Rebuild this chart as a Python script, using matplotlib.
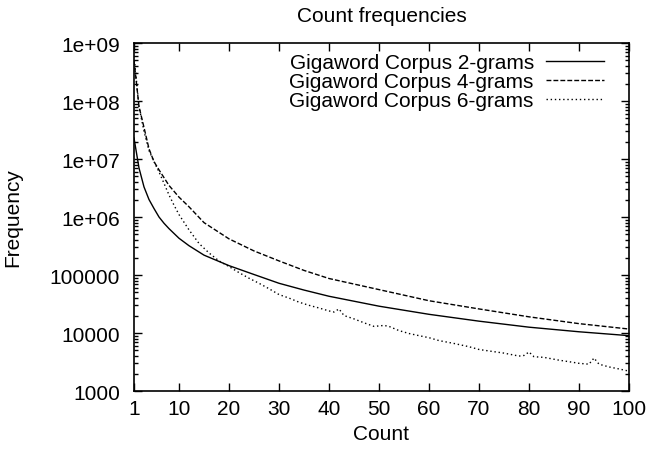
import matplotlib
matplotlib.use('Agg')
import matplotlib.pyplot as plt
import numpy as np
from matplotlib.ticker import FixedLocator, NullFormatter

plt.rcParams['font.family'] = ['Liberation Sans', 'DejaVu Sans']

# values (count -> frequency)
counts_2 = [1, 2, 3, 4, 5, 6, 7, 8, 10, 12, 15, 20, 25, 30, 35, 40, 50, 60, 70, 80, 90, 100]
freq_2 = [2.3e7, 7e6, 3.3e6, 2.0e6, 1.4e6, 1.0e6, 7.8e5, 6.3e5, 4.3e5, 3.2e5, 2.2e5,
          1.45e5, 1.02e5, 7.2e4, 5.5e4, 4.3e4, 2.9e4, 2.1e4, 1.6e4, 1.26e4, 1.05e4, 9e3]

counts_4 = [1, 2, 3, 4, 5, 6, 8, 10, 12, 15, 20, 25, 30, 35, 40, 50, 60, 70, 80, 90, 100]
freq_4 = [5e8, 8e7, 3.5e7, 1.5e7, 9e6, 6.5e6, 3.5e6, 2.2e6, 1.5e6, 8e5, 4.2e5, 2.6e5,
          1.75e5, 1.2e5, 8.7e4, 5.6e4, 3.6e4, 2.6e4, 1.9e4, 1.45e4, 1.17e4]

counts_6 = [1, 2, 3, 4, 5, 6, 7, 8, 9, 10, 12, 14, 16, 18, 20, 22, 24, 26, 28, 30, 32, 34,
            36, 38, 40, 41, 42, 43, 45, 47, 49, 51, 52, 54, 56, 58, 60, 62, 65, 68, 70, 72,
            75, 78, 79, 80, 81, 83, 86, 88, 90, 92, 93, 94, 96, 98, 100]
freq_6 = [6e8, 8e7, 3e7, 1.4e7, 9e6, 6e6, 3.8e6, 2.4e6, 1.6e6, 1.1e6, 6e5, 3.5e5, 2.4e5,
          1.75e5, 1.4e5, 1.1e5, 8.8e4, 7.2e4, 5.8e4, 4.6e4, 4.0e4, 3.4e4, 3.0e4, 2.7e4,
          2.4e4, 2.3e4, 2.6e4, 2.0e4, 1.75e4, 1.5e4, 1.3e4, 1.35e4, 1.3e4, 1.1e4, 9.8e3,
          9e3, 8.3e3, 7.4e3, 6.6e3, 5.8e3, 5.2e3, 4.9e3, 4.5e3, 4.0e3, 4.1e3, 4.7e3, 3.9e3,
          3.8e3, 3.4e3, 3.2e3, 3.0e3, 2.9e3, 3.7e3, 2.9e3, 2.6e3, 2.4e3, 2.2e3]

x_ticks = [1, 10, 20, 30, 40, 50, 60, 70, 80, 90, 100]
y_ticks = [1e3, 1e4, 1e5, 1e6, 1e7, 1e8, 1e9]
y_labels = ['1000', '10000', '100000', '1e+06', '1e+07', '1e+08', '1e+09']

fs = 15

fig = plt.figure(figsize=(6.51, 4.52), dpi=100)
ax = fig.add_axes([134/651, 1-392/452, 495/651, 348/452])

ax.plot(counts_2, freq_2, '-', color='black', linewidth=1.0, label='Gigaword Corpus 2-grams')
ax.plot(counts_4, freq_4, color='black', linewidth=1.0, dashes=(3.5, 1.5), label='Gigaword Corpus 4-grams')
ax.plot(counts_6, freq_6, color='black', linewidth=1.0, dashes=(1, 2), label='Gigaword Corpus 6-grams')

ax.set_yscale('log')
ax.set_xlim(1, 100)
ax.set_ylim(1e3, 1e9)

ax.set_xticks(x_ticks)
ax.set_xticklabels([str(t) for t in x_ticks])
ax.yaxis.set_major_locator(FixedLocator(y_ticks))
ax.set_yticklabels(y_labels)
minors = [m * 10**e for e in range(3, 9) for m in range(2, 10)]
ax.yaxis.set_minor_locator(FixedLocator(minors))
ax.yaxis.set_minor_formatter(NullFormatter())

ax.tick_params(which='major', direction='in', length=6, width=1, top=True, right=True,
               labelsize=fs)
ax.tick_params(axis='y', which='major', pad=10)
ax.tick_params(axis='x', which='major', pad=6)
ax.tick_params(which='minor', direction='in', length=3, width=1, left=True, right=True)
for s in ax.spines.values():
    s.set_linewidth(1.2)

ax.set_xlabel('Count', fontsize=fs, labelpad=4)
ax.set_ylabel('Frequency', fontsize=fs, labelpad=20)
ax.set_title('Count frequencies', fontsize=fs, pad=15.5)

ax.legend(loc='upper right', bbox_to_anchor=(1 - 15/495, 1), frameon=False,
          markerfirst=False, fontsize=fs, handlelength=2.75, handletextpad=0.6,
          labelspacing=0.0, borderaxespad=0.3, borderpad=0.2)

plt.savefig('out.png', dpi=100)
